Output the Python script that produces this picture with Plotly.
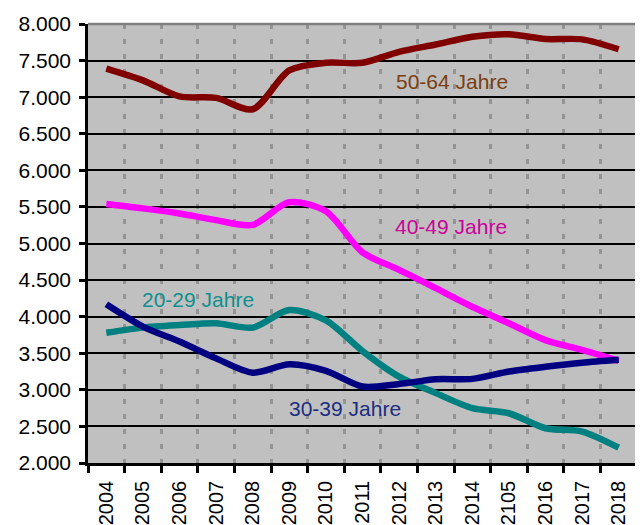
import plotly.graph_objects as go

years = ["2004", "2005", "2006", "2007", "2008", "2009", "2010", "2011",
         "2012", "2013", "2014", "2105", "2016", "2017", "2018"]

age_50_64 = [7390, 7230, 7010, 6990, 6835, 7365, 7470, 7470,
             7620, 7720, 7825, 7860, 7795, 7790, 7655]
age_40_49 = [5540, 5480, 5410, 5320, 5255, 5565, 5440, 4880,
             4640, 4390, 4135, 3910, 3680, 3545, 3395]
age_20_29 = [3780, 3850, 3885, 3910, 3850, 4090, 3950, 3530,
             3180, 2955, 2750, 2680, 2475, 2430, 2210]
age_30_39 = [4170, 3865, 3660, 3430, 3235, 3350, 3260, 3045,
             3080, 3145, 3150, 3250, 3315, 3370, 3410]

series = [
    ("50-64 Jahre", age_50_64, "#800000", "#7A3E0F", 9.45, 7220),
    ("40-49 Jahre", age_40_49, "#FF00FF", "#CC0099", 9.41, 5230),
    ("20-29 Jahre", age_20_29, "#008080", "#0E8F8F", 2.51, 4240),
    ("30-39 Jahre", age_30_39, "#000080", "#1A2E80", 6.52, 2740),
]

fig = go.Figure()
annotations = []
for name, vals, color, tcolor, ax, ay in series:
    fig.add_trace(go.Scatter(
        x=years, y=vals, mode="lines", name=name,
        line=dict(color=color, width=6.5, shape="spline", smoothing=0.8),
        showlegend=False,
    ))
    annotations.append(dict(
        x=ax, y=ay, xref="x", yref="y", text=name, showarrow=False,
        font=dict(family="Liberation Sans, Arial, sans-serif", size=21, color=tcolor),
    ))

fig.update_layout(
    width=635, height=517,
    margin=dict(l=80, r=6, t=16, b=62),
    paper_bgcolor="white",
    plot_bgcolor="#C0C0C0",
    separators=",.",
    font=dict(family="Liberation Sans, Arial, sans-serif", size=20, color="black"),
    annotations=annotations,
    shapes=[
        dict(type="line", xref="paper", yref="paper", x0=0, x1=1, y0=1, y1=1,
             line=dict(color="#808080", width=2.5)),
        dict(type="line", xref="paper", yref="paper", x0=1, x1=1, y0=0, y1=1,
             line=dict(color="#808080", width=2.5)),
    ],
)
fig.update_xaxes(
    type="category", tickson="boundaries", tickangle=-90, automargin=False,
    showline=True, linecolor="black", linewidth=2.5,
    ticks="outside", ticklen=7, tickwidth=2.5, tickcolor="black",
    showgrid=True, gridcolor="#949494", gridwidth=2.5, griddash="5px,10px",
    range=[-0.5, 14.5], zeroline=False,
    tickfont=dict(size=20), ticklabelstandoff=7,
)
fig.update_yaxes(
    range=[2000, 8000], dtick=500, tick0=2000, tickformat=",d", automargin=False,
    showline=True, linecolor="black", linewidth=2.5,
    ticks="outside", ticklen=6, tickwidth=2.5, tickcolor="black",
    showgrid=True, gridcolor="black", gridwidth=2,
    zeroline=False, tickfont=dict(size=21), ticklabelstandoff=4,
)

fig.write_html("out.html")
